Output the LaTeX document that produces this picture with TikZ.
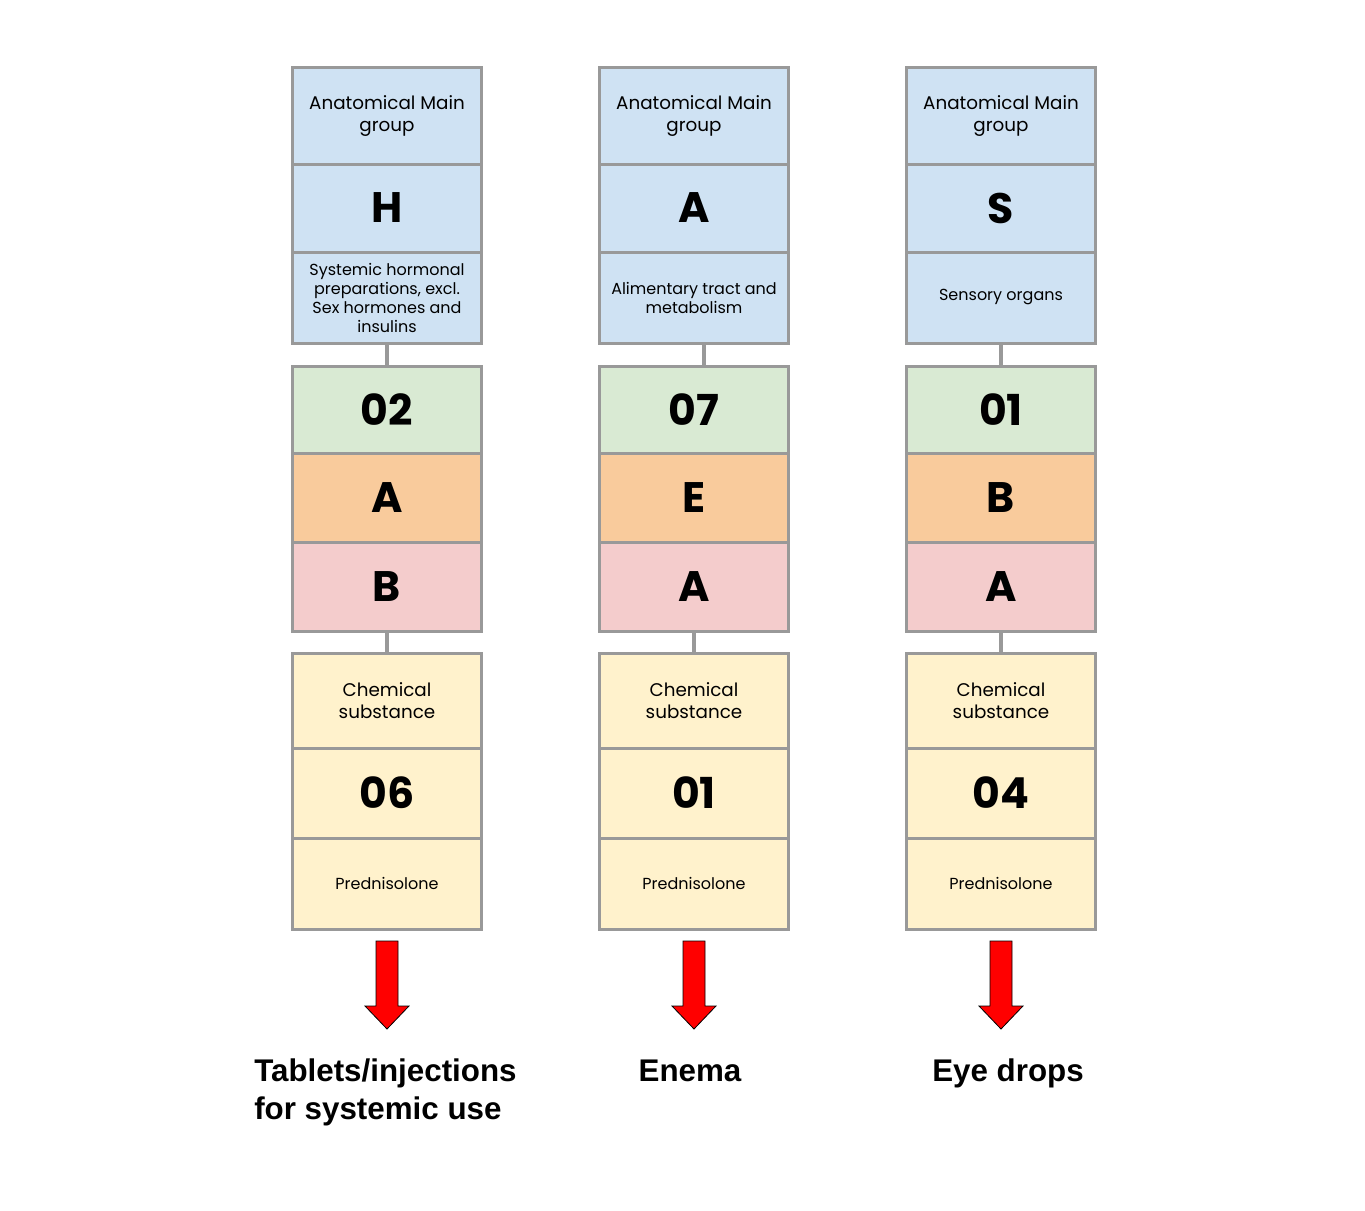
\documentclass[tikz,border=0pt]{standalone}
\usepackage{fontspec}
\setmainfont{Poppins}
\newfontfamily\routefont{Liberation Sans}
\usetikzlibrary{positioning,calc}
\definecolor{cellgray}{HTML}{999999}
\definecolor{atcblue}{HTML}{CFE2F3}
\definecolor{atcgreen}{HTML}{D9EAD3}
\definecolor{atcorange}{HTML}{F9CB9C}
\definecolor{atcpink}{HTML}{F4CCCC}
\definecolor{atcyellow}{HTML}{FFF2CC}

\begin{document}
\begin{tikzpicture}[x=0.75pt, y=-0.75pt,
    cell/.style={draw=cellgray, line width=2.25pt, minimum width=141.75pt, inner sep=0pt, outer sep=0pt, align=center},
    atcname/.style={cell, font=\fontsize{13.75}{16.5}\selectfont},
    atctext/.style={cell, font=\fontsize{12}{14.25}\selectfont},
    atccode/.style={cell, font=\bfseries\fontsize{32}{36}\selectfont},
    link/.style={draw=cellgray, line width=2.5pt},
    pointer/.style={fill=red, draw=black, line width=0.6pt},
    route/.style={font=\routefont\bfseries\fontsize{23.5}{28}\selectfont, align=left, inner sep=0pt}]
    \useasboundingbox (0,0) rectangle (1365,1211);

    % One column per ATC code
    \foreach \c/\x/\dx/\grp/\txt/\sub/\pharm/\chem/\sbs in {
        1/387/0/H/{Systemic hormonal\\preparations, excl.\\Sex hormones and\\insulins}/02/A/B/06,
        2/694/10/A/{Alimentary tract and\\metabolism}/07/E/A/01,
        3/1001/0/S/{Sensory organs}/01/B/A/04} {
        % anatomical main group
        \node[atcname, fill=atcblue, minimum height=72.75pt, anchor=north] (main\c) at (\x, 67) {Anatomical Main\\group};
        \node[atccode, fill=atcblue, minimum height=66pt, below=0pt of main\c] (grp\c) {\grp};
        \node[atctext, fill=atcblue, minimum height=68.25pt, below=0pt of grp\c] (grptxt\c) {\txt};

        % subgroups
        \node[atccode, fill=atcgreen, minimum height=65.25pt, anchor=north] (sub\c) at (\x, 366) {\sub};
        \node[atccode, fill=atcorange, minimum height=66.75pt, below=0pt of sub\c] (pharm\c) {\pharm};
        \node[atccode, fill=atcpink, minimum height=66.75pt, below=0pt of pharm\c] (chem\c) {\chem};

        % chemical substance
        \node[atcname, fill=atcyellow, minimum height=71.25pt, anchor=north] (subst\c) at (\x, 653) {Chemical\\substance};
        \node[atccode, fill=atcyellow, minimum height=67.5pt, below=0pt of subst\c] (sbs\c) {\sbs};
        \node[atctext, fill=atcyellow, minimum height=68.25pt, below=0pt of sbs\c] (drug\c) {Prednisolone};

        % links between the blocks
        \draw[link] ($(grptxt\c.south)+(\dx,0)$) -- ($(sub\c.north)+(\dx,0)$);
        \draw[link] (chem\c.south) -- (subst\c.north);

        % red arrow
        \draw[pointer] (\x-11, 941) -- (\x+11, 941) -- (\x+11, 1006) -- (\x+22, 1006)
            -- (\x, 1029) -- (\x-22, 1006) -- (\x-11, 1006) -- cycle;
    }

    % Routes of administration
    \node[route, anchor=north west] (use1) at (254, 1059) {Tablets/injections\\for systemic use};
    \node[route, anchor=base] (use2) at (690, 1081) {Enema};
    \node[route, anchor=base] (use3) at (1008, 1081) {Eye drops};
\end{tikzpicture}
\end{document}
